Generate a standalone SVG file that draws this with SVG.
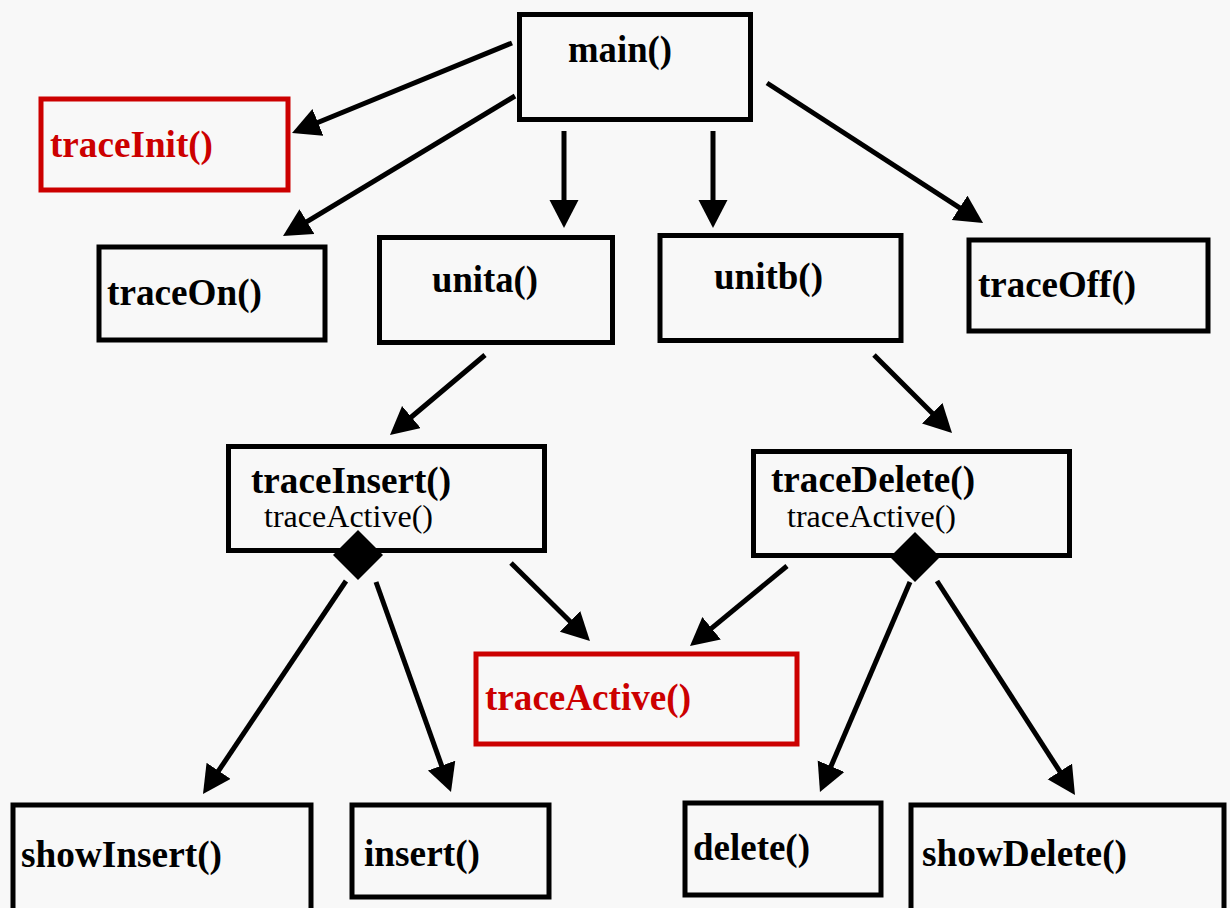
<svg xmlns="http://www.w3.org/2000/svg" width="1230" height="908" viewBox="0 0 1230 908">
  <style>
    .box { fill: none; stroke: #000; stroke-width: 5; }
    .hot { fill: none; stroke: #cc0000; stroke-width: 5; }
    .lbl { font-family: "Liberation Serif", "Times New Roman", serif; font-weight: bold; font-size: 37px; fill: #000; }
    .lbl.red { fill: #cc0000; }
    .sub { font-family: "Liberation Serif", "Times New Roman", serif; font-size: 31px; fill: #000; }
    .edge { stroke: #000; stroke-width: 5; fill: none; marker-end: url(#head); }
    .dia { fill: #000; }
  </style>
  <defs>
    <marker id="head" markerUnits="userSpaceOnUse" markerWidth="30" markerHeight="30" refX="14" refY="14.5" orient="auto">
      <path d="M0,0 L28,14.5 L0,29 z" fill="#000"/>
    </marker>
  </defs>
  <rect width="1230" height="908" fill="#f8f8f8"/>

  <g id="connectors">
    <line class="edge" x1="512" y1="43" x2="305" y2="127.7"/>
    <line class="edge" x1="515" y1="96" x2="295" y2="228.8"/>
    <line class="edge" x1="564" y1="131" x2="564" y2="214"/>
    <line class="edge" x1="713" y1="131" x2="713" y2="214"/>
    <line class="edge" x1="767" y1="83" x2="971.3" y2="215.4"/>
    <line class="edge" x1="485" y1="355" x2="400.7" y2="426"/>
    <line class="edge" x1="874" y1="355" x2="942.1" y2="423.1"/>
    <line class="edge" x1="346" y1="581" x2="210.8" y2="782.4"/>
    <line class="edge" x1="376" y1="582" x2="446.3" y2="778.8"/>
    <line class="edge" x1="511" y1="563" x2="580" y2="631.2"/>
    <line class="edge" x1="787" y1="566" x2="700.8" y2="637.1"/>
    <line class="edge" x1="910" y1="582" x2="825.5" y2="779.1"/>
    <line class="edge" x1="937" y1="581" x2="1067.4" y2="783.2"/>
  </g>

  <g id="main">
    <rect class="box" x="519.5" y="14.5" width="231" height="105"/>
    <text class="lbl" x="568" y="62" textLength="104" lengthAdjust="spacingAndGlyphs">main()</text>
  </g>
  <g id="traceInit">
    <rect class="hot" x="41" y="99" width="247" height="91"/>
    <text class="lbl red" x="50" y="157" textLength="163" lengthAdjust="spacingAndGlyphs">traceInit()</text>
  </g>
  <g id="traceOn">
    <rect class="box" x="99" y="247" width="226" height="93"/>
    <text class="lbl" x="107" y="305" textLength="155" lengthAdjust="spacingAndGlyphs">traceOn()</text>
  </g>
  <g id="unita">
    <rect class="box" x="379.5" y="237.5" width="233" height="105"/>
    <text class="lbl" x="432" y="292" textLength="106" lengthAdjust="spacingAndGlyphs">unita()</text>
  </g>
  <g id="unitb">
    <rect class="box" x="660" y="235.5" width="241" height="105"/>
    <text class="lbl" x="714" y="289" textLength="109" lengthAdjust="spacingAndGlyphs">unitb()</text>
  </g>
  <g id="traceOff">
    <rect class="box" x="969" y="240" width="239" height="91"/>
    <text class="lbl" x="978" y="297" textLength="158" lengthAdjust="spacingAndGlyphs">traceOff()</text>
  </g>
  <g id="traceInsert">
    <rect class="box" x="228.5" y="446.5" width="316" height="104"/>
    <text class="lbl" x="251" y="493" textLength="200" lengthAdjust="spacingAndGlyphs">traceInsert()</text>
    <text class="sub" x="264" y="527" textLength="169" lengthAdjust="spacingAndGlyphs">traceActive()</text>
    <path class="dia" d="M358,530 L383,555 L358,580 L333,555 z"/>
  </g>
  <g id="traceDelete">
    <rect class="box" x="753.5" y="451.5" width="316" height="104"/>
    <text class="lbl" x="771" y="492" textLength="204" lengthAdjust="spacingAndGlyphs">traceDelete()</text>
    <text class="sub" x="787" y="527" textLength="169" lengthAdjust="spacingAndGlyphs">traceActive()</text>
    <path class="dia" d="M915,532 L940,557 L915,582 L890,557 z"/>
  </g>
  <g id="traceActive">
    <rect class="hot" x="476" y="654" width="321" height="90"/>
    <text class="lbl red" x="485" y="710" textLength="206" lengthAdjust="spacingAndGlyphs">traceActive()</text>
  </g>
  <g id="showInsert">
    <rect class="box" x="13" y="805" width="298" height="120"/>
    <text class="lbl" x="21" y="867" textLength="201" lengthAdjust="spacingAndGlyphs">showInsert()</text>
  </g>
  <g id="insert">
    <rect class="box" x="352" y="805" width="197" height="92"/>
    <text class="lbl" x="364" y="866" textLength="116" lengthAdjust="spacingAndGlyphs">insert()</text>
  </g>
  <g id="delete">
    <rect class="box" x="685" y="803" width="196" height="92"/>
    <text class="lbl" x="693" y="860" textLength="117" lengthAdjust="spacingAndGlyphs">delete()</text>
  </g>
  <g id="showDelete">
    <rect class="box" x="911" y="805" width="313" height="120"/>
    <text class="lbl" x="922" y="866" textLength="205" lengthAdjust="spacingAndGlyphs">showDelete()</text>
  </g>
</svg>
